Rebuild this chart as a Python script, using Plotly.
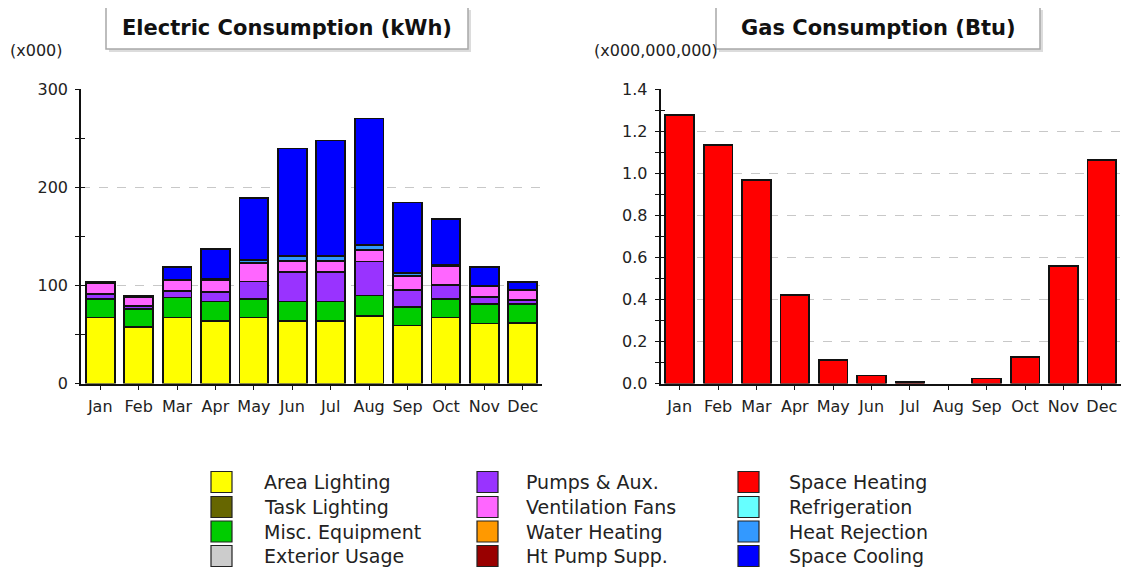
import plotly.graph_objects as go

months = ["Jan", "Feb", "Mar", "Apr", "May", "Jun", "Jul", "Aug", "Sep", "Oct", "Nov", "Dec"]

# Electric consumption (x000 kWh), stacked end uses
area_lighting = [67.3, 57.8, 67.3, 63.9, 67.3, 63.9, 63.9, 68.6, 59.1, 67.3, 61.2, 61.8]
misc_equipment = [19.0, 18.3, 20.4, 19.7, 19.0, 19.7, 19.7, 21.1, 19.1, 19.0, 20.3, 19.7]
pumps_aux = [4.7, 2.7, 6.8, 9.5, 17.7, 29.9, 29.9, 34.7, 17.6, 14.3, 6.8, 3.4]
ventilation_fans = [11.0, 8.9, 11.5, 12.9, 19.0, 11.5, 11.5, 12.2, 14.2, 19.7, 10.9, 10.9]
heat_rejection = [0, 0, 0, 0.8, 2.7, 4.8, 4.8, 4.8, 2.8, 1.0, 0, 0]
space_cooling = [1.5, 1.5, 13.0, 30.5, 63.9, 110.1, 118.2, 129.1, 72.0, 46.6, 19.7, 7.5]

# Gas consumption (x000,000,000 Btu)
gas_space_heating = [1.279, 1.135, 0.970, 0.420, 0.112, 0.038, 0.008, 0.0, 0.024, 0.126, 0.561, 1.066]

elec_ticks = [0, 100, 200, 300]
gas_ticks = [0.0, 0.2, 0.4, 0.6, 0.8, 1.0, 1.2, 1.4]
gas_tick_text = ["0.0", "0.2", "0.4", "0.6", "0.8", "1.0", "1.2", "1.4"]

legend_names = ["Area Lighting", "Task Lighting", "Misc. Equipment", "Exterior Usage",
                "Pumps & Aux.", "Ventilation Fans", "Water Heating", "Ht Pump Supp.",
                "Space Heating", "Refrigeration", "Heat Rejection", "Space Cooling"]
legend_colors = ["#FFFF00", "#666600", "#00CC00", "#CCCCCC",
                 "#9933FF", "#FF66FF", "#FF9900", "#990000",
                 "#FF0000", "#66FFFF", "#3399FF", "#0000FF"]
color_of = dict(zip(legend_names, legend_colors))

# the page body has an 8px margin, so the figure is sized to the remaining window
OFF = 8
W, H = 1130 - OFF, 572 - OFF
FONT = "Verdana, DejaVu Sans, sans-serif"


def px(x):
    return (x - OFF) / W


def py(y):
    return 1 - (y - OFF) / H


def outline_widths(vals, w=1.8):
    # no outline on empty bars, so a zero month shows nothing
    return [0 if v == 0 else w for v in vals]


fig = go.Figure()

elec_series = [("Area Lighting", area_lighting), ("Misc. Equipment", misc_equipment),
               ("Pumps & Aux.", pumps_aux), ("Ventilation Fans", ventilation_fans),
               ("Heat Rejection", heat_rejection), ("Space Cooling", space_cooling)]
for name, vals in elec_series:
    fig.add_trace(go.Bar(x=months, y=vals, name=name, marker_color=color_of[name],
                         marker_line=dict(color="#111111", width=outline_widths(vals)),
                         xaxis="x", yaxis="y", showlegend=False))

fig.add_trace(go.Bar(x=months, y=gas_space_heating, name="Space Heating",
                     marker_color=color_of["Space Heating"],
                     marker_line=dict(color="#111111", width=outline_widths(gas_space_heating)),
                     xaxis="x2", yaxis="y2", showlegend=False))

# helper traces so the inside-tick overlay axes are drawn
fig.add_trace(go.Scatter(x=[None], y=[None], xaxis="x", yaxis="y3", showlegend=False, hoverinfo="skip"))
fig.add_trace(go.Scatter(x=[None], y=[None], xaxis="x2", yaxis="y4", showlegend=False, hoverinfo="skip"))

# plot area: value 0 at y=383.5 px, top tick at y=89.5 px; range padded slightly so top grid shows
pad = 301 / 300
ydom = [py(383.5), py(383.5 - 294 * pad)]
elec_range = [0, 300 * pad]
gas_range = [0, 1.4 * pad]
tickfont = dict(family=FONT, size=16, color="#222222")

xcommon = dict(type="category", categoryorder="array", categoryarray=months,
               range=[-0.5, 11.5], showline=True, linecolor="#111111", linewidth=1.5,
               ticks="outside", ticklen=5, tickcolor="#111111", tickfont=tickfont,
               showgrid=False, zeroline=False, ticklabelstandoff=3, fixedrange=True,
               automargin=False)

ycommon = dict(showline=True, linecolor="#111111", linewidth=1.5,
               ticks="outside", ticklen=4, tickcolor="#111111", tickfont=tickfont,
               showgrid=True, gridcolor="#C8C8C8", griddash="dash", gridwidth=1,
               zeroline=False, ticklabelstandoff=4, fixedrange=True, automargin=False)

yover = dict(showline=False, ticks="inside", ticklen=4, tickcolor="#111111",
             showticklabels=False, showgrid=False, zeroline=False, fixedrange=True,
             automargin=False)

fig.update_layout(
    width=W, height=H,
    margin=dict(l=0, r=0, t=0, b=0, autoexpand=False),
    paper_bgcolor="white", plot_bgcolor="white",
    barmode="stack", bargap=0.25,
    font=dict(family=FONT, color="#222222"),
    xaxis=dict(domain=[px(81), px(542)], anchor="y", **xcommon),
    xaxis2=dict(domain=[px(660.5), px(1121)], anchor="y2", **xcommon),
    yaxis=dict(domain=ydom, anchor="x", range=elec_range, tickvals=elec_ticks,
               minor=dict(dtick=50, ticks="outside", ticklen=4, tickcolor="#111111", showgrid=False),
               **ycommon),
    yaxis3=dict(domain=ydom, anchor="x", overlaying="y", range=elec_range, tickvals=elec_ticks,
                minor=dict(dtick=50, ticks="inside", ticklen=4, tickcolor="#111111", showgrid=False),
                **yover),
    yaxis2=dict(domain=ydom, anchor="x2", range=gas_range, tickvals=gas_ticks, ticktext=gas_tick_text,
                minor=dict(dtick=0.1, ticks="outside", ticklen=4, tickcolor="#111111", showgrid=False),
                **ycommon),
    yaxis4=dict(domain=ydom, anchor="x2", overlaying="y2", range=gas_range, tickvals=gas_ticks,
                minor=dict(dtick=0.1, ticks="inside", ticklen=4, tickcolor="#111111", showgrid=False),
                **yover),
)

shapes = []
annotations = []

# Title boxes
for (x0, x1, text) in [(106, 468, "Electric Consumption (kWh)"), (716, 1040, "Gas Consumption (Btu)")]:
    y0, y1 = 7, 49
    shapes.append(dict(type="rect", xref="paper", yref="paper",
                       x0=px(x0 + 3), x1=px(x1 + 3), y0=py(y1 + 3), y1=py(y0 + 3),
                       fillcolor="#DCDCDC", line=dict(width=0), layer="above"))
    shapes.append(dict(type="rect", xref="paper", yref="paper",
                       x0=px(x0), x1=px(x1), y0=py(y1), y1=py(y0),
                       fillcolor="white", line=dict(color="#A8A8A8", width=1.5), layer="above"))
    annotations.append(dict(text="<b>" + text + "</b>", xref="paper", yref="paper",
                            x=px((x0 + x1) / 2), y=py((y0 + y1) / 2),
                            xanchor="center", yanchor="middle", showarrow=False,
                            font=dict(family=FONT, size=21, color="#111111")))

# unit labels
annotations.append(dict(text="(x000)", xref="paper", yref="paper", x=px(8), y=py(50),
                        xanchor="left", yanchor="middle", showarrow=False,
                        font=dict(family=FONT, size=16, color="#222222")))
annotations.append(dict(text="(x000,000,000)", xref="paper", yref="paper", x=px(592), y=py(50),
                        xanchor="left", yanchor="middle", showarrow=False,
                        font=dict(family=FONT, size=16, color="#222222")))

# Legend: 3 columns x 4 rows
col_sw_x = [211, 477, 738]
col_tx_x = [262, 524, 787]
row_y = [482, 507, 531.5, 556]
sw = 21
for i, (name, color) in enumerate(zip(legend_names, legend_colors)):
    c, r = divmod(i, 4)
    cx, cy = col_sw_x[c], row_y[r]
    shapes.append(dict(type="rect", xref="paper", yref="paper",
                       x0=px(cx), x1=px(cx + sw), y0=py(cy + sw / 2), y1=py(cy - sw / 2),
                       fillcolor=color, line=dict(color="#222222", width=1.2)))
    annotations.append(dict(text=name, xref="paper", yref="paper", x=px(col_tx_x[c]), y=py(cy),
                            xanchor="left", yanchor="middle", showarrow=False,
                            font=dict(family=FONT, size=19, color="#222222")))

fig.update_layout(shapes=shapes, annotations=annotations)

fig.write_html("out.html")
